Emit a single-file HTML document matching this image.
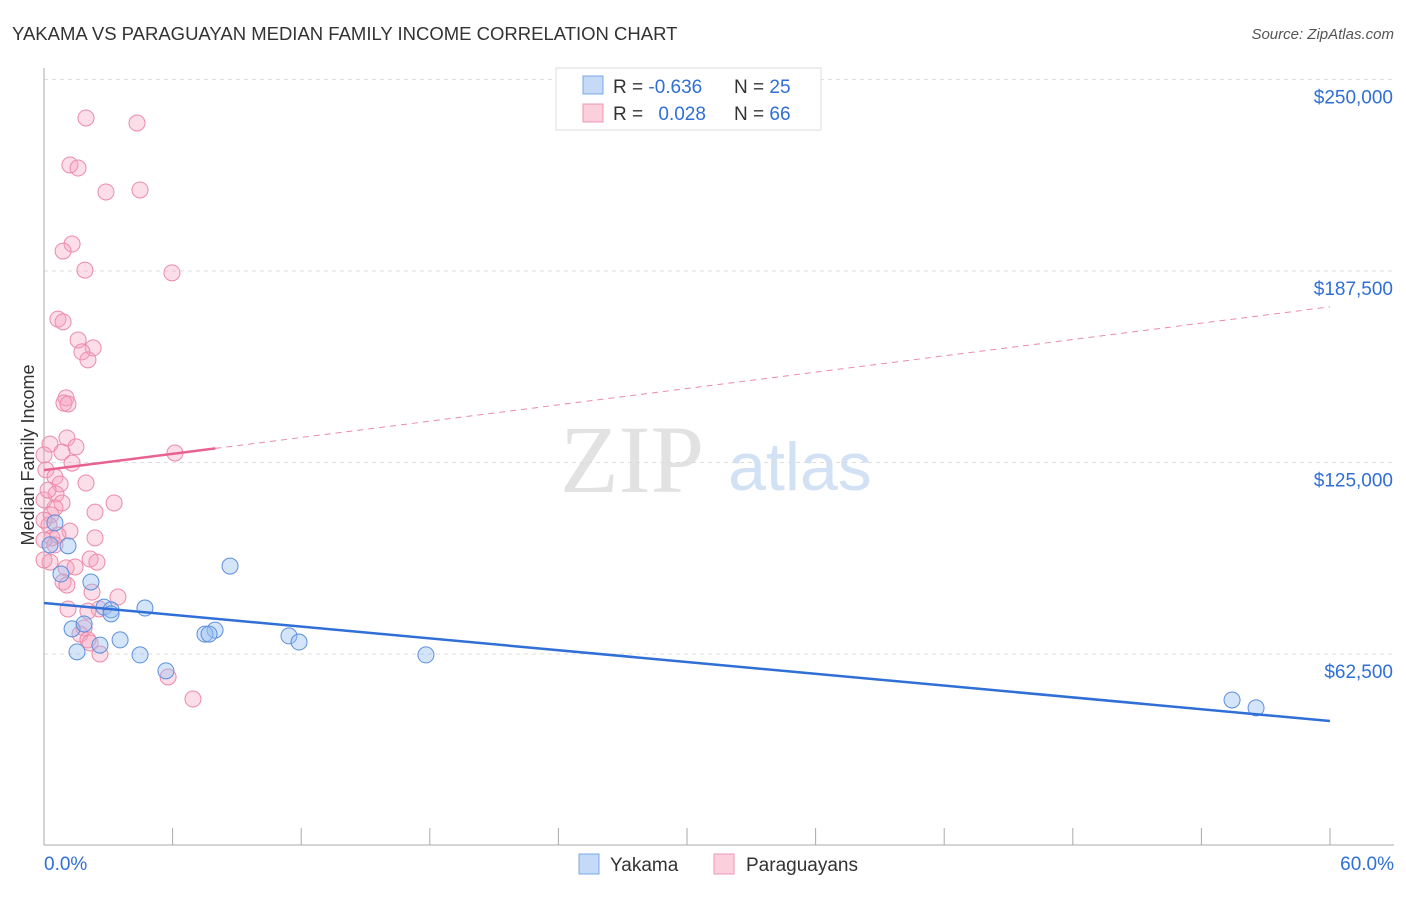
<!DOCTYPE html>
<html><head><meta charset="utf-8"><style>
body{margin:0;background:#fff;font-family:"Liberation Sans",sans-serif}
</style></head><body>
<svg id="c" width="1406" height="892" xmlns="http://www.w3.org/2000/svg" font-family="Liberation Sans, sans-serif">
<text x="12" y="40" font-size="18.5" fill="#333">YAKAMA VS PARAGUAYAN MEDIAN FAMILY INCOME CORRELATION CHART</text>
<text x="1394" y="39" font-size="15" fill="#555" font-style="italic" text-anchor="end">Source: ZipAtlas.com</text>
<text x="632" y="492" font-size="96" fill="#e2e2e2" font-family="Liberation Serif, serif" text-anchor="middle">ZIP</text>
<text x="800" y="490" font-size="68" fill="#d3e1f5" text-anchor="middle">atlas</text>
<text transform="translate(34,455) rotate(-90)" font-size="18" fill="#333" text-anchor="middle">Median Family Income</text>
<g id="grid"></g><g id="pts"></g><g id="lines"></g>
<g>
<rect x="556" y="68" width="265" height="62" fill="#fff" stroke="#ddd"/>
<rect x="583" y="76" width="20" height="18" fill="#c5daf6" stroke="#7aa7e6"/>
<rect x="583" y="104" width="20" height="18" fill="#fbcfdc" stroke="#ee9ab4"/>
<text x="613" y="93" font-size="19" fill="#333">R = <tspan fill="#2f6fd6">-0.636</tspan></text>
<text x="734" y="93" font-size="19" fill="#333">N = <tspan fill="#2f6fd6">25</tspan></text>
<text x="613" y="120" font-size="19" fill="#333">R = <tspan fill="#2f6fd6" dx="10">0.028</tspan></text>
<text x="734" y="120" font-size="19" fill="#333">N = <tspan fill="#2f6fd6">66</tspan></text>
</g>
<g>
<rect x="579" y="854" width="20" height="20" fill="#c5daf6" stroke="#7aa7e6"/>
<text x="610" y="871" font-size="19" fill="#333">Yakama</text>
<rect x="714" y="854" width="20" height="20" fill="#fbcfdc" stroke="#ee9ab4"/>
<text x="746" y="871" font-size="19" fill="#333">Paraguayans</text>
</g>
</svg>
<script>
const yTicks=[62500,125000,187500,250000];
const yTickLabels=["$62,500","$125,000","$187,500","$250,000"];
const xTicks=[0,6,12,18,24,30,36,42,48,54,60];
const pinkX=[1.96,4.34,1.21,1.59,2.89,4.48,1.31,0.89,1.91,5.97,0.65,0.89,1.59,2.29,1.77,2.05,1.03,0.93,1.12,1.07,0.28,1.49,0.84,6.11,1.31,0.09,0.51,1.96,0.75,0.56,0.84,3.27,0.51,2.38,0.33,0.23,1.21,0.37,2.38,0,0.51,2.15,2.47,0.28,1.03,1.45,0.89,1.07,2.24,3.45,1.12,2.57,2.05,1.87,1.68,2.05,2.15,2.61,5.79,6.95,0,0,0,0.65,0,0.19];
const pinkY=[237450,235800,222100,221100,213300,213950,196300,194000,187800,186900,171800,170900,165000,162400,161100,158500,146100,144400,144100,133000,131000,130100,128400,128100,124800,122600,120300,118300,118000,114700,111800,111800,110200,108800,107900,104600,102600,100400,100400,99700,98100,93500,92500,92500,90600,90900,86000,85000,82700,81100,77200,77200,76500,71000,69000,67100,66100,62500,55000,47800,93200,106200,112800,101300,127500,116000];
const blueX=[0.51,1.12,8.68,0.79,2.19,4.71,2.8,3.13,3.13,1.31,1.87,3.55,2.61,1.54,4.48,7.98,7.51,7.7,11.43,11.9,17.82,5.69,55.43,56.55,0.28];
const blueY=[105300,97800,91200,88600,86000,77500,77800,76900,75600,70700,72300,67100,65400,63200,62200,70300,69000,69000,68400,66400,62200,57000,47500,44900,98100];
const blueTrend=[79150,40630];
const pinkTrend=[122500,175800];
const pinkSolidEnd=8;
const X=v=>44+v/60*1286;
const Y=v=>654-(v-62500)/62500*191.5;
const NS="http://www.w3.org/2000/svg";
function mk(t,a,p){const e=document.createElementNS(NS,t);for(const k in a)e.setAttribute(k,a[k]);p.appendChild(e);return e;}
const g=document.getElementById('grid');
yTicks.forEach((v,i)=>{
 const l=mk('line',{x1:44,x2:1394,y1:Y(v),y2:Y(v),stroke:'#ddd','stroke-dasharray':'4,4'},g);
 
 
 const t=mk('text',{x:1393,y:Y(v)+24,'font-size':19,fill:'#2f6fd6','text-anchor':'end'},g);
 t.textContent=yTickLabels[i];
 
 
});
mk('line',{x1:44,x2:44,y1:68,y2:845,stroke:'#aaa'},g);
mk('line',{x1:44,x2:1394,y1:845,y2:845,stroke:'#aaa'},g);
xTicks.forEach(v=>{const l=mk('line',{x1:X(v),x2:X(v),y1:828,y2:845,stroke:'#aaa'},g);
 
 });
let t=mk('text',{x:44,y:870,'font-size':19,fill:'#2f6fd6'},g);t.textContent='0.0%';


t=mk('text',{x:1394,y:870,'font-size':19,fill:'#2f6fd6','text-anchor':'end'},g);t.textContent='60.0%';


const p=document.getElementById('pts');
pinkX.forEach((x,i)=>{const c=mk('circle',{cx:X(x),cy:Y(pinkY[i]),r:8,fill:'rgba(245,160,188,0.35)',stroke:'#ec8aa9','stroke-width':1},p);
 
 });
blueX.forEach((x,i)=>{const c=mk('circle',{cx:X(x),cy:Y(blueY[i]),r:8,fill:'rgba(150,190,240,0.4)',stroke:'#5b8fdd','stroke-width':1},p);
 
 });
const L=document.getElementById('lines');
let e=mk('line',{x1:X(0),y1:Y(blueTrend[0]),x2:X(60),y2:Y(blueTrend[1]),stroke:'#2f6fd6','stroke-width':2.5},L);


const py=x=>pinkTrend[0]+(pinkTrend[1]-pinkTrend[0])*x/60;
e=mk('line',{x1:X(0),y1:Y(py(0)),x2:X(pinkSolidEnd),y2:Y(py(pinkSolidEnd)),stroke:'#e8628f','stroke-width':2.5},L);


e=mk('line',{x1:X(pinkSolidEnd),y1:Y(py(pinkSolidEnd)),x2:X(60),y2:Y(py(60)),stroke:'#ec8aa9','stroke-width':1,'stroke-dasharray':'6,5'},L);


</script>
</body></html>
